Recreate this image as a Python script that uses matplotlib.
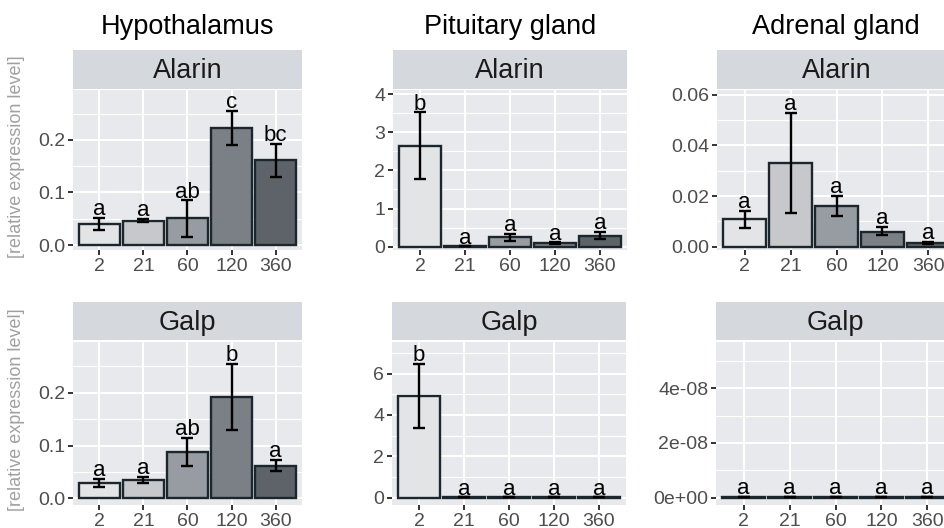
import matplotlib
matplotlib.use("Agg")
import matplotlib.pyplot as plt
from matplotlib.ticker import FixedLocator

plt.rcParams['font.family'] = ['Liberation Sans', 'DejaVu Sans']

# time points (x categories)
time_points = ["2", "21", "60", "120", "360"]

# means, error bar lower/upper ends and letters per panel
hyp_alarin = [0.040, 0.046, 0.052, 0.222, 0.162]
hyp_alarin_lo = [0.028, 0.043, 0.016, 0.190, 0.130]
hyp_alarin_hi = [0.052, 0.049, 0.085, 0.255, 0.193]
hyp_alarin_sig = ["a", "a", "ab", "c", "bc"]

pit_alarin = [2.65, 0.01, 0.25, 0.09, 0.29]
pit_alarin_lo = [1.77, 0.01, 0.16, 0.07, 0.19]
pit_alarin_hi = [3.52, 0.01, 0.33, 0.11, 0.38]
pit_alarin_sig = ["b", "a", "a", "a", "a"]

adr_alarin = [0.011, 0.033, 0.016, 0.006, 0.0015]
adr_alarin_lo = [0.0075, 0.0135, 0.012, 0.0045, 0.0011]
adr_alarin_hi = [0.014, 0.053, 0.020, 0.0078, 0.0019]
adr_alarin_sig = ["a", "a", "a", "a", "a"]

hyp_galp = [0.0295, 0.035, 0.088, 0.192, 0.062]
hyp_galp_lo = [0.022, 0.029, 0.062, 0.130, 0.051]
hyp_galp_hi = [0.037, 0.041, 0.114, 0.255, 0.073]
hyp_galp_sig = ["a", "a", "ab", "b", "a"]

pit_galp = [4.93, 0.02, 0.02, 0.02, 0.02]
pit_galp_lo = [3.35, 0.02, 0.02, 0.02, 0.02]
pit_galp_hi = [6.45, 0.02, 0.02, 0.02, 0.02]
pit_galp_sig = ["b", "a", "a", "a", "a"]

adr_galp = [2e-10, 2e-10, 2e-10, 2e-10, 2e-10]
adr_galp_lo = [2e-10, 2e-10, 2e-10, 2e-10, 2e-10]
adr_galp_hi = [2e-10, 2e-10, 2e-10, 2e-10, 2e-10]
adr_galp_sig = ["a", "a", "a", "a", "a"]

fills = ["#e3e4e6", "#c6c8cb", "#979ca2", "#7a8086", "#5d6369"]
edge = "#1c272d"
panel_bg = "#e7e9ec"
strip_bg = "#d5d8dc"

W, H = 945, 528
fig = plt.figure(figsize=(W / 100, H / 100), dpi=100)


def box(x0, y0, x1, y1):
    return [x0 / W, 1 - y1 / H, (x1 - x0) / W, (y1 - y0) / H]


def panel(x0, x1, strip_top, plot_top, plot_bot, gene, vals, lo, hi, sig,
          ylim, major, minor, ticklabels=None):
    # strip with gene name
    sax = fig.add_axes(box(x0, strip_top, x1, plot_top - 1.5))
    sax.set_facecolor(strip_bg)
    sax.set_xticks([])
    sax.set_yticks([])
    for s in sax.spines.values():
        s.set_visible(False)
    sax.text(0.5, 0.45, gene, ha="center", va="center", fontsize=19.5,
             color="#1a1a1a", transform=sax.transAxes)

    ax = fig.add_axes(box(x0, plot_top, x1, plot_bot))
    ax.set_facecolor(panel_bg)
    for s in ax.spines.values():
        s.set_visible(False)
    ax.set_axisbelow(True)
    x = list(range(1, len(time_points) + 1))
    ax.bar(x, vals, width=0.92, color=fills, edgecolor=edge, linewidth=1.7)
    yerr = [[v - l for v, l in zip(vals, lo)], [h - v for v, h in zip(vals, hi)]]
    ax.errorbar(x, vals, yerr=yerr, fmt="none", ecolor="black", elinewidth=1.7,
                capsize=4, capthick=1.7)
    for xi, h, s in zip(x, hi, sig):
        ax.annotate(s, (xi, h), xytext=(0, 2), textcoords="offset points",
                    ha="center", va="baseline", fontsize=16, color="black")
    ax.set_xlim(0.4, 5.6)
    ax.set_ylim(*ylim)
    ax.set_xticks(x)
    ax.set_xticklabels(time_points)
    ax.yaxis.set_major_locator(FixedLocator(major))
    ax.yaxis.set_minor_locator(FixedLocator(minor))
    if ticklabels is not None:
        ax.set_yticklabels(ticklabels)
    ax.grid(True, which="major", color="white", linewidth=1.5)
    ax.grid(True, which="minor", axis="y", color="white", linewidth=0.8)
    ax.tick_params(which="major", length=3.5, width=1.4, color="#333333",
                   labelsize=14, labelcolor="#4d4d4d", pad=2)
    ax.tick_params(which="minor", length=0)
    return ax


# top row: Alarin
panel(73, 302, 50, 90, 250, "Alarin", hyp_alarin, hyp_alarin_lo, hyp_alarin_hi,
      hyp_alarin_sig, (-0.0095, 0.295), [0, 0.1, 0.2], [0.05, 0.15, 0.25],
      ["0.0", "0.1", "0.2"])
panel(393, 627, 50, 90, 250, "Alarin", pit_alarin, pit_alarin_lo, pit_alarin_hi,
      pit_alarin_sig, (-0.087, 4.11), [0, 1, 2, 3, 4], [0.5, 1.5, 2.5, 3.5])
panel(717, 956, 50, 90, 250, "Alarin", adr_alarin, adr_alarin_lo, adr_alarin_hi,
      adr_alarin_sig, (-0.0013, 0.0619), [0, 0.02, 0.04, 0.06],
      [0.01, 0.03, 0.05], ["0.00", "0.02", "0.04", "0.06"])

# bottom row: Galp
panel(73, 302, 302, 341.5, 505, "Galp", hyp_galp, hyp_galp_lo, hyp_galp_hi,
      hyp_galp_sig, (-0.0127, 0.297), [0, 0.1, 0.2], [0.05, 0.15, 0.25],
      ["0.0", "0.1", "0.2"])
panel(392, 626, 302, 341.5, 505, "Galp", pit_galp, pit_galp_lo, pit_galp_hi,
      pit_galp_sig, (-0.35, 7.55), [0, 2, 4, 6], [1, 3, 5, 7])
panel(716, 955, 302, 341.5, 505, "Galp", adr_galp, adr_galp_lo, adr_galp_hi,
      adr_galp_sig, (-0.267e-8, 5.71e-8), [0, 2e-8, 4e-8], [1e-8, 3e-8, 5e-8],
      ["0e+00", "2e-08", "4e-08"])

# column titles
for label, xc in [("Hypothalamus", 187.5), ("Pituitary gland", 510), ("Adrenal gland", 836)]:
    fig.text(xc / W, 1 - 27 / H, label, ha="center", va="center", fontsize=19.5,
             color="black")

# y-axis labels
for yc in [157, 410]:
    fig.text(17 / W, 1 - yc / H, "[relative expression level]", rotation=90,
             ha="center", va="center", fontsize=13, color="#a0a0a0")

fig.savefig("out.png", dpi=100)
